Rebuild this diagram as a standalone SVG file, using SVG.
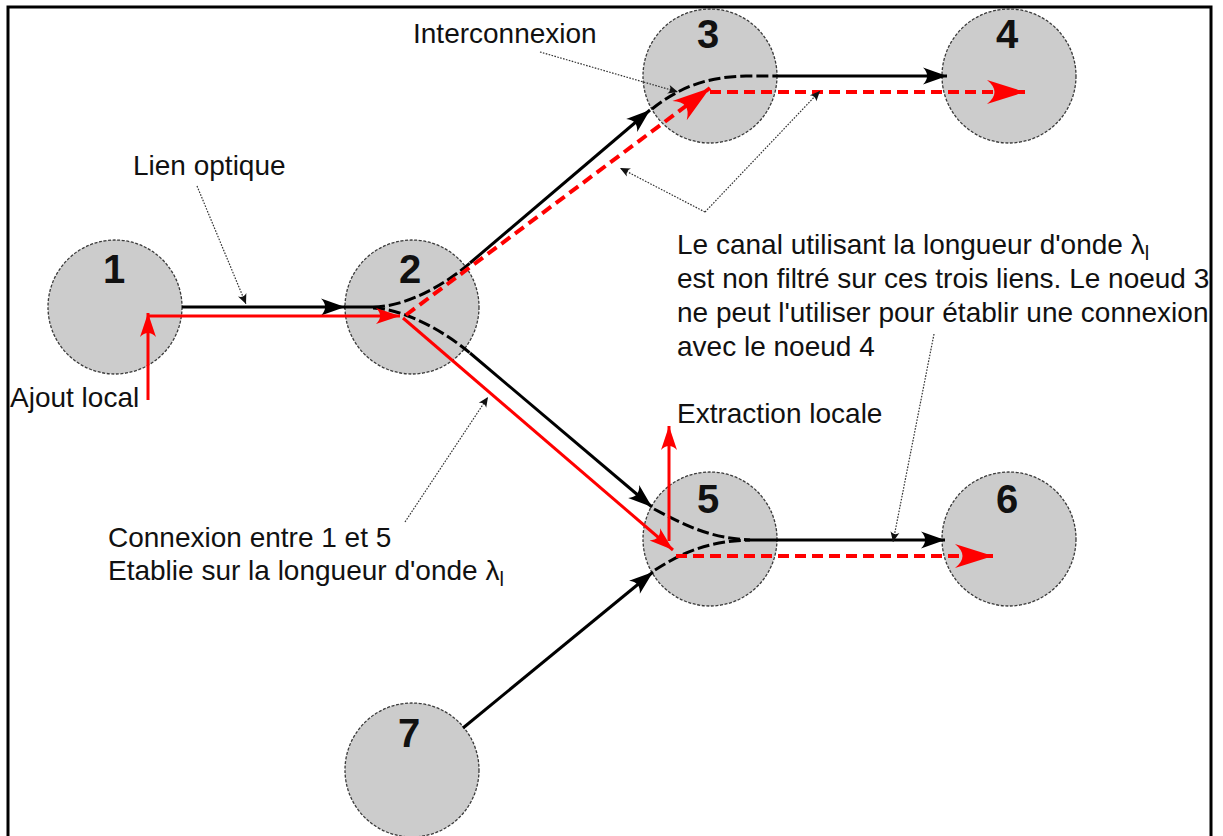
<svg xmlns="http://www.w3.org/2000/svg" width="1223" height="836" viewBox="0 0 1223 836">
  <style>
    .node circle { fill: #cccccc; stroke: #3a3a3a; stroke-width: 1.3; stroke-dasharray: 3 1.6; }
    .num { font-family: "Liberation Sans", Arial, sans-serif; font-weight: bold; font-size: 40px; text-anchor: middle; fill: #111; }
    .lbl { font-family: "Liberation Sans", Arial, sans-serif; font-size: 28px; fill: #111; }
    .k { fill: none; stroke: #000; stroke-width: 3; }
    .kd { fill: none; stroke: #000; stroke-width: 3; stroke-dasharray: 12 4; }
    .r { fill: none; stroke: #ff0000; stroke-width: 3; }
    .rd { fill: none; stroke: #ff0000; stroke-width: 4; stroke-dasharray: 11 6; }
    .lead { fill: none; stroke: #333; stroke-width: 1.2; stroke-dasharray: 1.6 1.4; }
  </style>
  <defs>
    <marker id="ak" markerUnits="userSpaceOnUse" viewBox="-28 -10 30 20" markerWidth="30" markerHeight="20" refX="0" refY="0" orient="auto" overflow="visible">
      <path d="M0,0 L-24,-8.5 C-18.5,-3 -18.5,3 -24,8.5 Z" fill="#000"/>
    </marker>
    <marker id="ars" markerUnits="userSpaceOnUse" viewBox="-28 -10 30 20" markerWidth="30" markerHeight="20" refX="0" refY="0" orient="auto" overflow="visible">
      <path d="M0,0 L-24,-8 C-18.5,-3 -18.5,3 -24,8 Z" fill="#ff0000"/>
    </marker>
    <marker id="arb" markerUnits="userSpaceOnUse" viewBox="-42 -14 44 28" markerWidth="44" markerHeight="28" refX="0" refY="0" orient="auto" overflow="visible">
      <path d="M0,0 L-38,-12 C-28,-4 -28,4 -38,12 Z" fill="#ff0000"/>
    </marker>
    <marker id="al" markerUnits="userSpaceOnUse" viewBox="-12 -6 14 12" markerWidth="14" markerHeight="12" refX="0" refY="0" orient="auto" overflow="visible">
      <path d="M0,0 L-10,-4.5 C-7.5,-1.5 -7.5,1.5 -10,4.5 Z" fill="#111"/>
    </marker>
  </defs>

  <rect width="1223" height="836" fill="#fff"/>
  <!-- frame -->
  <rect x="8" y="7" width="1203" height="845" fill="none" stroke="#000" stroke-width="3"/>

  <!-- nodes -->
  <g id="node1" class="node"><circle cx="115" cy="307" r="67"/><text class="num" x="114" y="283">1</text></g>
  <g id="node2" class="node"><circle cx="412" cy="307" r="67"/><text class="num" x="410" y="283">2</text></g>
  <g id="node3" class="node"><circle cx="710" cy="76" r="67"/><text class="num" x="708" y="48">3</text></g>
  <g id="node4" class="node"><circle cx="1009" cy="76" r="67"/><text class="num" x="1007" y="48">4</text></g>
  <g id="node5" class="node"><circle cx="710" cy="539" r="67"/><text class="num" x="708" y="513">5</text></g>
  <g id="node6" class="node"><circle cx="1009" cy="539" r="67"/><text class="num" x="1007" y="513">6</text></g>
  <g id="node7" class="node"><circle cx="412" cy="770" r="67"/><text class="num" x="409" y="747">7</text></g>

  <!-- connectors -->
  <g id="connectors">
    <!-- black fibre links -->
    <path class="k" d="M182,307 H345" marker-end="url(#ak)"/>
    <path class="k" d="M344,307 H373"/>
    <path class="kd" d="M373,307 C402,307 440,289 470,263"/>
    <path class="kd" d="M373,308 C402,309 440,328 470,353"/>
    <path class="k" d="M470,263 L650,110" marker-end="url(#ak)"/>
    <path class="k" d="M470,353 L652,507" marker-end="url(#ak)"/>
    <path class="kd" d="M652,109 C680,87 706,77 746,76 L777,76"/>
    <path class="k" d="M777,76 H947" marker-end="url(#ak)"/>
    <path class="kd" d="M654,509 C690,528 712,538 750,540"/>
    <path class="k" d="M463,728 L653,572" marker-end="url(#ak)"/>
    <path class="kd" d="M655,570 C686,550 712,541 750,540"/>
    <path class="k" d="M750,540 H945" marker-end="url(#ak)"/>

    <!-- red wavelength path -->
    <path class="r" d="M148,400 V313" marker-end="url(#ars)"/>
    <path class="r" d="M147,316 H400" marker-end="url(#ars)"/>
    <path class="r" d="M403,318 L673,550" marker-end="url(#ars)"/>
    <path class="r" d="M669,541 V426" marker-end="url(#ars)"/>
    <path class="rd" d="M406,315 L710,88" marker-end="url(#arb)"/>
    <path class="rd" d="M710,92 H1025" marker-end="url(#arb)"/>
    <path class="rd" d="M676,556 H993" marker-end="url(#arb)"/>

    <!-- callout leaders -->
    <path class="lead" d="M197,186 L246,304" marker-end="url(#al)"/>
    <path class="lead" d="M540,52 L678,92" marker-end="url(#al)"/>
    <path class="lead" d="M705,212 L620,168" marker-end="url(#al)"/>
    <path class="lead" d="M705,212 L820,91" marker-end="url(#al)"/>
    <path class="lead" d="M934,334 L893,542" marker-end="url(#al)"/>
    <path class="lead" d="M405,522 L488,397" marker-end="url(#al)"/>
  </g>

  <!-- labels -->
  <g id="labels">
    <text class="lbl" x="133" y="175">Lien optique</text>
    <text class="lbl" x="413" y="43">Interconnexion</text>
    <text class="lbl" x="677" y="254">Le canal utilisant la longueur d'onde λ<tspan font-size="20" dy="6">l</tspan></text>
    <text class="lbl" x="677" y="288">est non filtré sur ces trois liens. Le noeud 3</text>
    <text class="lbl" x="677" y="322">ne peut l'utiliser pour établir une connexion</text>
    <text class="lbl" x="677" y="356">avec le noeud 4</text>
    <text class="lbl" x="10" y="407">Ajout local</text>
    <text class="lbl" x="677" y="423">Extraction locale</text>
    <text class="lbl" x="108" y="547">Connexion entre 1 et 5</text>
    <text class="lbl" x="108" y="580">Etablie sur la longueur d'onde λ<tspan font-size="20" dy="6">l</tspan></text>
  </g>
</svg>
